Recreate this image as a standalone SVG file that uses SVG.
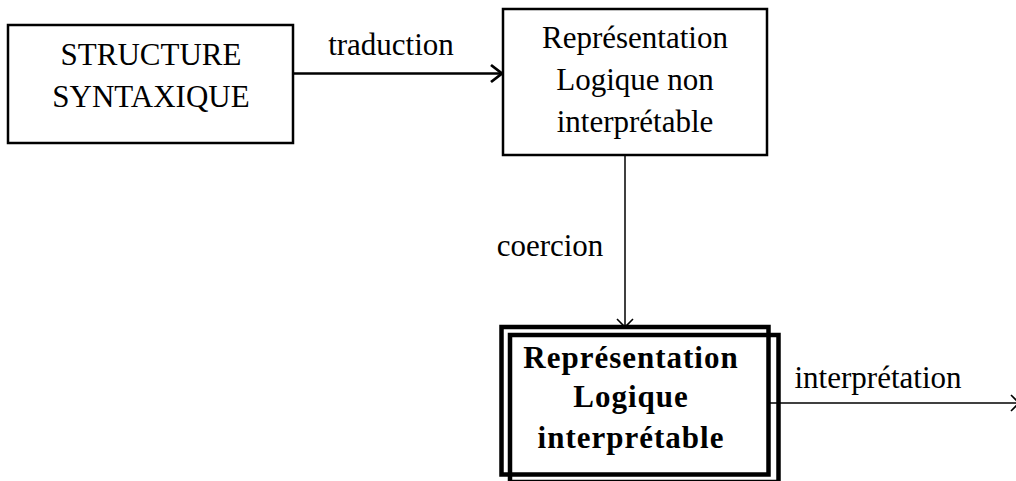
<svg xmlns="http://www.w3.org/2000/svg" width="1016" height="481" viewBox="0 0 1016 481">
  <style>
    .box { fill: #fff; stroke: #000; stroke-width: 2.5; }
    .boxBold { fill: none; stroke: #000; stroke-width: 4.5; }
    .lbl { font-family: "Liberation Serif", "Times New Roman", serif; font-size: 31px; fill: #000; text-anchor: middle; }
    .bold { font-weight: bold; letter-spacing: 1px; }
    .edge { fill: none; stroke: #000; }
  </style>
  <defs>
    <marker id="arrowThick" markerUnits="userSpaceOnUse" markerWidth="24" markerHeight="24" viewBox="-14 -12 16 24" refX="0" refY="0" orient="auto">
      <path d="M-11,-8.5 L0,0 L-11,8.5" fill="none" stroke="#000" stroke-width="2.8"/>
    </marker>
    <marker id="arrowThin" markerUnits="userSpaceOnUse" markerWidth="24" markerHeight="24" viewBox="-12 -12 14 24" refX="0" refY="0" orient="auto">
      <path d="M-8,-8 L0,0 L-8,8" fill="none" stroke="#000" stroke-width="1.6"/>
    </marker>
  </defs>

  <!-- connectors -->
  <g id="connectors">
    <line class="edge" x1="293" y1="73.5" x2="502" y2="73.5" stroke-width="2.6" marker-end="url(#arrowThick)"/>
    <line class="edge" x1="625" y1="155" x2="625" y2="327" stroke-width="1.5" marker-end="url(#arrowThin)"/>
    <line class="edge" x1="768" y1="403" x2="1019" y2="403" stroke-width="1.6" marker-end="url(#arrowThin)"/>
    <text class="lbl" x="391" y="55">traduction</text>
    <text class="lbl" x="550" y="256">coercion</text>
    <text class="lbl" x="878" y="388">interprétation</text>
  </g>

  <!-- syntactic structure -->
  <g id="structure">
    <rect class="box" x="8" y="25" width="285" height="118"/>
    <text class="lbl" x="151" y="65">STRUCTURE</text>
    <text class="lbl" x="151" y="107">SYNTAXIQUE</text>
  </g>

  <!-- non-interpretable logical form -->
  <g id="rl-non-interpretable">
    <rect class="box" x="503" y="9" width="264" height="146"/>
    <text class="lbl" x="635" y="48">Représentation</text>
    <text class="lbl" x="635" y="90">Logique non</text>
    <text class="lbl" x="635" y="132">interprétable</text>
  </g>

  <!-- interpretable logical form (double frame) -->
  <g id="rl-interpretable">
    <rect class="boxBold" x="501.5" y="327" width="267" height="147.5"/>
    <rect class="boxBold" x="510" y="335" width="268.5" height="147"/>
    <text class="lbl bold" x="631" y="368">Représentation</text>
    <text class="lbl bold" x="631" y="407">Logique</text>
    <text class="lbl bold" x="631" y="448">interprétable</text>
  </g>
</svg>
